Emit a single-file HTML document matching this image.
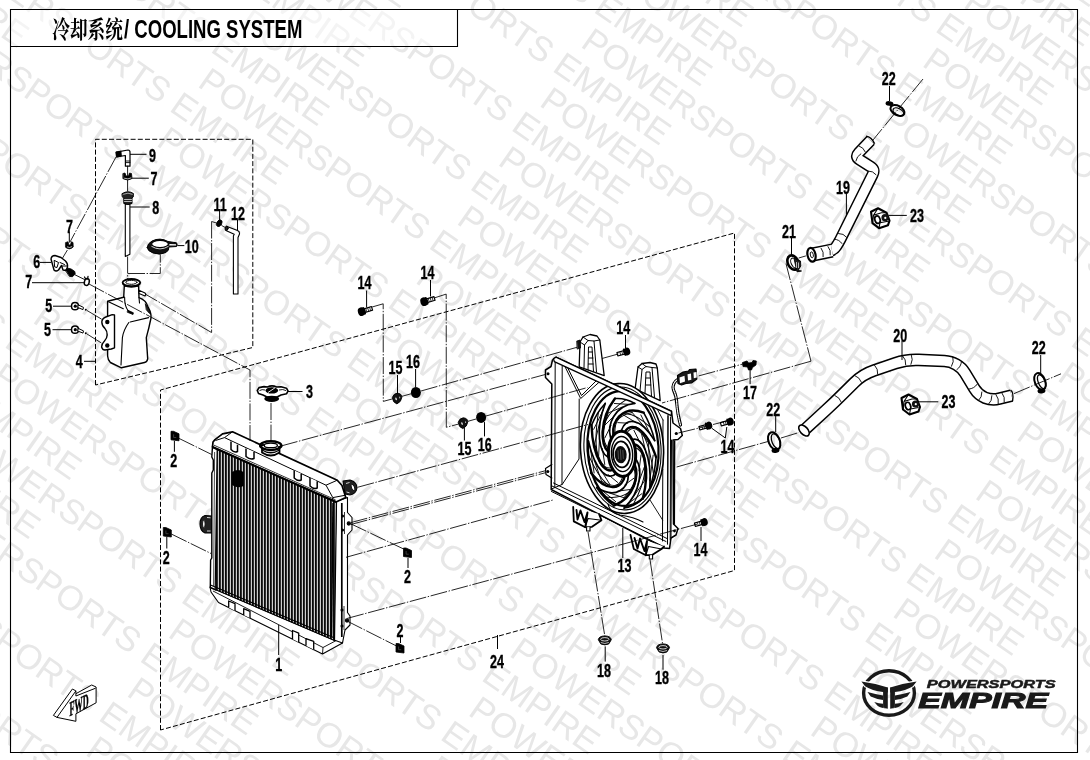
<!DOCTYPE html>
<html><head><meta charset="utf-8"><title>Cooling System</title>
<style>html,body{margin:0;padding:0;background:#fff}svg{display:block;will-change:transform}</style></head><body>
<svg width="1090" height="760" viewBox="0 0 1090 760">
<rect width="1090" height="760" fill="#fff"/>
<g transform="translate(554.19,72.34) rotate(34.97)" font-family="Liberation Sans, sans-serif" font-size="34.6" fill="#e7e7e7">
<text x="296.6" y="-576.0">POWERSPORTS EMPIRE</text>
<text x="296.6" y="-504.0">POWERSPORTS EMPIRE</text>
<text x="296.6" y="-432.0">POWERSPORTS EMPIRE</text>
<text x="5.6" y="-396.0">POWERSPORTS EMPIRE</text>
<text x="296.6" y="-360.0">POWERSPORTS EMPIRE</text>
<text x="5.6" y="-324.0">POWERSPORTS EMPIRE</text>
<text x="296.6" y="-288.0">POWERSPORTS EMPIRE</text>
<text x="5.6" y="-252.0">POWERSPORTS EMPIRE</text>
<text x="-285.4" y="-216.0">POWERSPORTS EMPIRE</text>
<text x="296.6" y="-216.0">POWERSPORTS EMPIRE</text>
<text x="5.6" y="-180.0">POWERSPORTS EMPIRE</text>
<text x="-285.4" y="-144.0">POWERSPORTS EMPIRE</text>
<text x="296.6" y="-144.0">POWERSPORTS EMPIRE</text>
<text x="5.6" y="-108.0">POWERSPORTS EMPIRE</text>
<text x="587.6" y="-108.0">POWERSPORTS EMPIRE</text>
<text x="-285.4" y="-72.0">POWERSPORTS EMPIRE</text>
<text x="296.6" y="-72.0">POWERSPORTS EMPIRE</text>
<text x="5.6" y="-36.0">POWERSPORTS EMPIRE</text>
<text x="587.6" y="-36.0">POWERSPORTS EMPIRE</text>
<text x="-285.4" y="0.0">POWERSPORTS EMPIRE</text>
<text x="296.6" y="0.0">POWERSPORTS EMPIRE</text>
<text x="-576.4" y="36.0">POWERSPORTS EMPIRE</text>
<text x="5.6" y="36.0">POWERSPORTS EMPIRE</text>
<text x="587.6" y="36.0">POWERSPORTS EMPIRE</text>
<text x="-285.4" y="72.0">POWERSPORTS EMPIRE</text>
<text x="296.6" y="72.0">POWERSPORTS EMPIRE</text>
<text x="-576.4" y="108.0">POWERSPORTS EMPIRE</text>
<text x="5.6" y="108.0">POWERSPORTS EMPIRE</text>
<text x="587.6" y="108.0">POWERSPORTS EMPIRE</text>
<text x="-285.4" y="144.0">POWERSPORTS EMPIRE</text>
<text x="296.6" y="144.0">POWERSPORTS EMPIRE</text>
<text x="-576.4" y="180.0">POWERSPORTS EMPIRE</text>
<text x="5.6" y="180.0">POWERSPORTS EMPIRE</text>
<text x="587.6" y="180.0">POWERSPORTS EMPIRE</text>
<text x="-867.3" y="216.0">POWERSPORTS EMPIRE</text>
<text x="-285.4" y="216.0">POWERSPORTS EMPIRE</text>
<text x="296.6" y="216.0">POWERSPORTS EMPIRE</text>
<text x="-576.4" y="252.0">POWERSPORTS EMPIRE</text>
<text x="5.6" y="252.0">POWERSPORTS EMPIRE</text>
<text x="587.6" y="252.0">POWERSPORTS EMPIRE</text>
<text x="-867.3" y="288.0">POWERSPORTS EMPIRE</text>
<text x="-285.4" y="288.0">POWERSPORTS EMPIRE</text>
<text x="296.6" y="288.0">POWERSPORTS EMPIRE</text>
<text x="-576.4" y="324.0">POWERSPORTS EMPIRE</text>
<text x="5.6" y="324.0">POWERSPORTS EMPIRE</text>
<text x="587.6" y="324.0">POWERSPORTS EMPIRE</text>
<text x="-867.3" y="360.0">POWERSPORTS EMPIRE</text>
<text x="-285.4" y="360.0">POWERSPORTS EMPIRE</text>
<text x="296.6" y="360.0">POWERSPORTS EMPIRE</text>
<text x="-576.4" y="396.0">POWERSPORTS EMPIRE</text>
<text x="5.6" y="396.0">POWERSPORTS EMPIRE</text>
<text x="587.6" y="396.0">POWERSPORTS EMPIRE</text>
<text x="-285.4" y="432.0">POWERSPORTS EMPIRE</text>
<text x="296.6" y="432.0">POWERSPORTS EMPIRE</text>
<text x="-576.4" y="468.0">POWERSPORTS EMPIRE</text>
<text x="5.6" y="468.0">POWERSPORTS EMPIRE</text>
<text x="587.6" y="468.0">POWERSPORTS EMPIRE</text>
<text x="-285.4" y="504.0">POWERSPORTS EMPIRE</text>
<text x="296.6" y="504.0">POWERSPORTS EMPIRE</text>
<text x="-576.4" y="540.0">POWERSPORTS EMPIRE</text>
<text x="5.6" y="540.0">POWERSPORTS EMPIRE</text>
<text x="-285.4" y="576.0">POWERSPORTS EMPIRE</text>
<text x="296.6" y="576.0">POWERSPORTS EMPIRE</text>
<text x="-576.4" y="612.0">POWERSPORTS EMPIRE</text>
<text x="5.6" y="612.0">POWERSPORTS EMPIRE</text>
<text x="-285.4" y="648.0">POWERSPORTS EMPIRE</text>
<text x="296.6" y="648.0">POWERSPORTS EMPIRE</text>
<text x="-576.4" y="684.0">POWERSPORTS EMPIRE</text>
<text x="5.6" y="684.0">POWERSPORTS EMPIRE</text>
<text x="-285.4" y="720.0">POWERSPORTS EMPIRE</text>
<text x="-576.4" y="756.0">POWERSPORTS EMPIRE</text>
<text x="5.6" y="756.0">POWERSPORTS EMPIRE</text>
<text x="-285.4" y="792.0">POWERSPORTS EMPIRE</text>
<text x="5.6" y="828.0">POWERSPORTS EMPIRE</text>
<text x="-285.4" y="864.0">POWERSPORTS EMPIRE</text>
<text x="-285.4" y="936.0">POWERSPORTS EMPIRE</text>
<text x="-285.4" y="1008.0">POWERSPORTS EMPIRE</text>
<text x="-285.4" y="1080.0">POWERSPORTS EMPIRE</text>
</g>
<rect x="10.5" y="9.5" width="447" height="37" fill="#fff" opacity="0.55"/>
<g fill="none" stroke="#000" stroke-width="1.1">
<path d="M10.5 9.5H1077.5V752.5H10.5Z"/><path d="M10.5 46.5H457.5V9.5"/>
</g>
<text transform="translate(52.3,38.2) scale(.735,1)" font-family="Liberation Serif, Noto Serif CJK SC, serif" font-weight="700" font-size="24">冷却系统</text>
<text transform="translate(124,38.4) scale(.737,1)" font-family="Liberation Sans, sans-serif" font-weight="bold" font-size="25.2">/ COOLING SYSTEM</text>
<g fill="none" stroke="#000" stroke-linecap="butt" stroke-linejoin="round">
<path d="M142.5 292.5L211.5 332.5" stroke-dasharray="17 1.6 1.4 1.6" stroke-width="0.85"/>
</g>
<defs><pattern id="fins" width="3" height="8" patternUnits="userSpaceOnUse"><rect width="3" height="8" fill="#0a0a0a"/><rect x="1.6" width="0.55" height="8" fill="#6a6a6a"/><rect x="2.15" width="0.85" height="8" fill="#eeeeee"/></pattern></defs>
<g stroke="#000" stroke-width="1.1" stroke-linejoin="round" fill="#fff">
<path d="M210 587L211 592L218.5 602.5L322.5 654L342.5 643L342.5 636L334 640Z"/>
<path d="M213 591L323 647.5L341 638M323 647.5L322.5 654" fill="none" stroke-width="0.9"/>
<path d="M228.7 607.5V601.0L235.0 603.6V610.7" fill="#fff" stroke-width="1.3"/>
<path d="M243.7 615.0V608.7L250.0 611.3V618.1" fill="#fff" stroke-width="1.3"/>
<path d="M292.5 639.1V630.5L298.7 633.1V642.2" fill="#fff" stroke-width="1.3"/>
<path d="M306.0 645.8V638.7L313.7 641.3V649.6" fill="#fff" stroke-width="1.3"/>
<path d="M336 501.5L347.5 497.5L347.5 512.5L352 517.5L352 530L347.5 535L347.5 612.5L350 616L350 625L345 630L342.5 643L334 640Z"/>
<path d="M341.8 503V637" fill="none" stroke-width="1.7"/>
<path d="M344.5 512V534M344 606V630" fill="none" stroke-width="0.8"/>
<circle cx="348.8" cy="523.5" r="1.6" fill="#000"/><circle cx="347" cy="620.5" r="1.6" fill="#000"/>
<circle cx="342.5" cy="516" r="1" fill="#000"/><circle cx="342.5" cy="530" r="1" fill="#000"/><circle cx="342" cy="610" r="1" fill="#000"/><circle cx="342" cy="626" r="1" fill="#000"/>
<path d="M212 516L205 515.5Q200 517 200 524Q200 531 205 533L212 533Z" fill="#222"/>
<ellipse cx="203.8" cy="524" rx="1.3" ry="3.4" fill="#fff" stroke-width="0.8"/>
<path d="M207 517.5L210.5 517.8M207 531L210.5 531" fill="none" stroke="#fff" stroke-width="0.8"/>
<path d="M212.5 446L218 448.5L216 590L210.3 587.5L210.6 560L211.8 558L211.8 473L213.3 470L213.3 460L211.8 457Z" fill="#fff" stroke-width="1.4"/>
<path d="M217.2 448L336.5 501.5L334.5 640.5L215.2 589.5Z" fill="url(#fins)" stroke-width="1.2"/>
<path d="M214.6 452L213.6 586" fill="none" stroke="#000" stroke-width="0.7"/>
<path d="M333 503L331.5 637" fill="none" stroke="#000" stroke-width="1.5"/>
<path d="M210.5 585L334.5 638" fill="none" stroke="#000" stroke-width="1.2"/>
<path d="M232 472Q238 468 243.5 472L243.5 486Q238 489 232 485Z" fill="#000" stroke="none"/>
<path d="M343 481L350 480Q357 482 357 488Q356 494 350 495L345 494Z" fill="#222"/>
<ellipse cx="353" cy="487.5" rx="1.5" ry="3.2" fill="#fff" stroke-width="0.8" transform="rotate(-20 353 487.5)"/>
<path d="M346 483.5L349.5 482.5M346.5 492L349.5 492.8" fill="none" stroke="#fff" stroke-width="0.8"/>
<path d="M212.5 447L213 442L215 439.6L222.5 433.8L232.5 431.8L337.3 480.2L342 485.5L345.8 497.5L336 502Z" stroke-width="1.7"/>
<path d="M215.5 440.5L224.5 437.6L326 485.2L332.8 497.6M224.5 437.6L232.5 431.8M326 485.2L337.3 480.2M332.8 497.6L345.6 495.2M332.8 497.6L332.6 501" fill="none" stroke-width="1"/>
<path d="M214 445.2L335.5 499.8" fill="none" stroke-width="0.8"/>
<path d="M212.5 447L336 502" fill="none" stroke-width="2"/>
<path d="M231.0 441.5V449.5Q234.2 453.0 237.5 451.5V444.7" fill="#fff" stroke-width="1.5"/>
<path d="M246.0 448.5V456.5Q250.0 460.0 254.0 458.5V451.7" fill="#fff" stroke-width="1.5"/>
<path d="M294.2 470.5V478.0Q297.7 481.5 301.2 480.0V473.7" fill="#fff" stroke-width="1.5"/>
<path d="M310.0 478.0V486.0Q313.6 489.5 317.2 488.0V481.2" fill="#fff" stroke-width="1.5"/>
<path d="M262 447.5V452.5Q270.8 458.5 279.5 452.5V447.5" fill="#fff" stroke-width="1.8"/>
<path d="M262 450Q270.8 455.5 279.5 450" fill="none" stroke-width="1.3"/>
<ellipse cx="270.8" cy="445.6" rx="10.6" ry="4.4" fill="#fff" stroke-width="2.4"/>
<ellipse cx="270.8" cy="445.4" rx="6.6" ry="2.3" fill="#fff" stroke-width="1.3"/>
<path d="M259.5 446.5L264 444.5M282 446L278 447.5" fill="none" stroke-width="2"/>
<path d="M257.3 390.5L259 387.6L264 386.6L267.5 387Q272 384.8 276.5 387L281 386.8L286.5 388.2L288 391L286.5 393.8L281 395L277.5 396.8Q272 398.2 266.5 396.8L263 395L258.5 393.5Z" stroke-width="1.6"/>
<ellipse cx="271.8" cy="390.4" rx="6.3" ry="3.2" fill="#000" stroke="none"/>
<path d="M268 392.5L275 387.8" fill="none" stroke="#fff" stroke-width="0.9"/>
<path d="M259.5 390.6Q262 389 265 390M279 390Q283 388.8 286 390.6" fill="none" stroke-width="0.9"/>
<ellipse cx="271.7" cy="398.8" rx="7.4" ry="3.1" fill="#000" stroke="none"/>
</g>
<g stroke="#000" stroke-width="1.4" stroke-linejoin="round" stroke-linecap="round" fill="#fff">
<path d="M107.6 301.3L123.7 297.3L124.3 286L138.6 286L139 297.6Q146 300 148 306.8Q151.5 313 151 318Q149 328 146.3 337.6L147.7 358.8Q147 362 144.5 362.5L121.4 367.8L110.4 362.5Q107.8 360 107.6 356Z"/>
<path d="M108.5 301.8L123.3 308.7M124.6 297Q124.5 306 128 310.5M128.8 322.5Q123.5 330 122.4 337.6L121 365M130.2 322L148.6 317.6M139 297.6L139.5 303" fill="none" stroke-width="1.1"/>
<path d="M128 310.3L133.4 312.8L133 314.5L127.5 312.3Z" fill="#000" stroke-width="0.8"/>
<path d="M145.5 304L150 311L149.5 313.5L146.5 310Z" fill="#222" stroke-width="0.8"/>
<path d="M139 290.3L145 293Q146.5 294.5 145 296L139 293.5Z" stroke-width="1.1"/>
<ellipse cx="131.4" cy="282.6" rx="8.8" ry="3.6" stroke-width="1.8"/>
<ellipse cx="131.4" cy="282.3" rx="5.6" ry="2" stroke-width="1"/>
<path d="M122.8 283.5Q123 286.5 131.4 287.2Q139.8 286.5 140 283.5" fill="none" stroke-width="1.2"/>
<path d="M114.5 315L112.2 314.6L105.8 317Q102 318.5 101.8 322Q102 326 104.9 328.4Q107.5 331.5 107.2 335Q107 338.5 104.5 341Q101.5 344 101.6 347Q102.5 350 104.9 350L111.3 349L114.5 347.8Z" stroke-width="1.4"/>
<circle cx="107.3" cy="322" r="2.2" fill="#000" stroke="none"/><circle cx="107.3" cy="345.5" r="2.2" fill="#000" stroke="none"/>
<path d="M71.5 306.2Q71.5 302.6 75 302.6Q78.5 302.6 78.5 306.2Q78.5 309.8 75 309.8Q71.5 309.8 71.5 306.2Z" fill="#fff" stroke-width="1.5"/>
<circle cx="75.3" cy="306.2" r="1.6" fill="#000" stroke="none"/>
<path d="M78.5 305.0L83.5 307.4L83 309.6L78 307.6Z" fill="#fff" stroke-width="1"/>
<circle cx="85.8" cy="309.8" r="1" fill="#000" stroke="none"/>
<path d="M71.5 329.7Q71.5 326.1 75 326.1Q78.5 326.1 78.5 329.7Q78.5 333.3 75 333.3Q71.5 333.3 71.5 329.7Z" fill="#fff" stroke-width="1.5"/>
<circle cx="75.3" cy="329.7" r="1.6" fill="#000" stroke="none"/>
<path d="M78.5 328.5L83.5 330.9L83 333.1L78 331.1Z" fill="#fff" stroke-width="1"/>
<circle cx="85.8" cy="333.3" r="1" fill="#000" stroke="none"/>
<path d="M116.3 152.2L128 150Q130.2 150.2 130 152.5L130 166.2L125.4 166.2L125.4 155.5L116.8 156.8Z" stroke-width="1.2"/>
<path d="M116.2 152L121 151.2L121.4 156L116.8 157Z" fill="#000" stroke-width="0.8"/>
<path d="M125.4 161H130M125.4 162.6H130" fill="none" stroke-width="0.9"/>
<path d="M127.6 166.2V191" fill="none" stroke-width="0.9"/>
<path d="M123.2 173.5L125 173L126 176L128.5 176L129.5 173L131.5 173.5L132 178.5Q128 181.5 123.2 178.8Z" fill="#000" stroke-width="0.8"/>
<path d="M124.5 178.3Q128 179.8 131 178" fill="none" stroke="#fff" stroke-width="0.7"/>
<path d="M125.3 204H129.9V254.3L125.3 256.5Z" stroke-width="1.1"/>
<path d="M122.3 193.5Q128 190 133.4 193.5L133.2 197L132 198L132 203.5Q128 205.5 123.8 203.5L123.8 198L122.5 197Z" fill="#222" stroke-width="1"/>
<path d="M124.5 199.5H131.5M124.5 201.5H131.5" fill="none" stroke="#fff" stroke-width="0.7"/>
<path d="M123.5 194.2Q128 192 132.3 194.2" fill="none" stroke="#fff" stroke-width="0.6"/>
<path d="M147.2 247.5Q147.5 243.5 152 241Q160 237 168 241.5L176.5 242.8Q177.8 244.5 176.5 246.5L168.8 247Q169.5 250 166 252.5Q160 255.5 153 253Q147.5 251 147.2 247.5Z" fill="#111" stroke-width="1"/>
<ellipse cx="160" cy="244" rx="8.4" ry="3.6" fill="#fff" stroke-width="1.2"/>
<path d="M169.5 244L176 244.3L176 245.6L169.2 245.6Z" fill="#fff" stroke="none"/>
<path d="M151.8 246.5Q160 251.5 168.2 246.5" fill="none" stroke="#fff" stroke-width="0.8"/>
<path d="M65.8 242.5L68 241.8L68.8 245L70.5 245L71.3 241.8L73 242.5L73.2 247Q69.5 250.5 65.8 247.5Z" fill="#000" stroke-width="0.8"/>
<path d="M67.3 247Q69.5 248.3 71.8 246.8" fill="none" stroke="#fff" stroke-width="0.7"/>
<path d="M51 259Q51.5 255.5 55 255.5L61 257.5L65.5 261Q68 263.5 67.5 267L66 270.5L63 270L61.5 265.5L58.5 270Q56 272 54 270Z" stroke-width="1.4"/>
<path d="M54.5 260.5L58.5 262.5L57 267.5L55 267Z" stroke-width="1"/>
<path d="M60 262.5L64.5 264.5M61.5 266H66.5" fill="none" stroke-width="1"/>
<path d="M65.5 270L68 268.2Q71 268.3 74.8 271.5L75.2 274L72.5 276.7L69.8 276.4Z" fill="#000" stroke-width="0.9"/>
<path d="M75.2 274.9L84.5 279.5" fill="none" stroke-width="0.9"/>
<ellipse cx="86.8" cy="282" rx="2.4" ry="3.5" stroke-width="1.5" transform="rotate(15 86.8 282)"/>
<path d="M84.5 277L86 279.5M88 276.5L87.6 279" fill="none" stroke-width="1.3"/>
<ellipse cx="219.2" cy="223.2" rx="2.4" ry="3.6" fill="#000" stroke-width="0.8" transform="rotate(30 219.2 223.2)"/>
<path d="M226.4 226.2L237.5 230.5Q239.8 231.5 239.5 234L238 237.5L238 294L233.4 294L233.4 236L234.2 234.3L225.9 230.6Z" stroke-width="1.1"/>
<ellipse cx="226.6" cy="228.3" rx="1.5" ry="2.3" fill="#222" stroke-width="0.9" transform="rotate(15 226.6 228.3)"/>
</g>
<g stroke="#000" stroke-width="1.1" stroke-linejoin="round" stroke-linecap="round" fill="#fff">
<path d="M579.2 366.8L580 342L583 337L590 334.5L597 336L599.8 340L604.2 375.7Z" stroke-width="1.3"/>
<path d="M584 368L584.5 345L588 340.5L594 341L596.5 372M588 370L588.5 347L592 347L593.5 371.5M580 342L584.5 345M588.5 352H592.5M588.5 358H593M588.5 364H593.2M583 337L588 340.5M599.8 340L594 341" fill="none" stroke-width="1"/>
<path d="M577 341L580 340L580.5 348L577.5 349Z" fill="#111" stroke-width="0.8"/>
<path d="M635.1 388.9L638 367L642 363.5L650 362.5L656 364L657.3 368L660.2 400.7Z" stroke-width="1.3"/>
<path d="M640 391L642 369.5L646 366.5L652 367.5L654.5 397.5M645 393L646 372L650 372L651.5 396M638 367L642 369.5M642 363.5L646 366.5M657.3 368L652 367.5M646 378H650.3M646 385H650.8" fill="none" stroke-width="1"/>
<path d="M680.5 425Q677.5 414 676.8 404Q676.5 396 673.5 390Q671.5 383 679 378.5" fill="none" stroke-width="3.2"/>
<path d="M680.5 425Q677.5 414 676.8 404Q676.5 396 673.5 390Q671.5 383 679 378.5" fill="none" stroke="#fff" stroke-width="1.2" stroke-dasharray="1.3 1"/>
<path d="M677.5 375.5L683 372L688.5 371L689.5 369.5L696 369L696.8 379L691.5 383L686 383.5L681.5 385L678 383.5Z" fill="#1a1a1a" stroke-width="1.2"/>
<path d="M679.5 377.5L684.5 375.8L685 381.5L680 383.2Z" fill="#fff" stroke="none"/>
<path d="M687.5 374.2L691 373.6L691.4 379.8L688 380.6Z" fill="#fff" stroke="none"/>
<path d="M693.5 372.5L696.5 372L696.8 377.5L693.8 378.2Z" fill="#fff" stroke="none"/>
<path d="M551.2 489.5L551.8 384L545.5 377.5L545.5 370L551 366.5L552.5 360L556 357.2L671.5 411.3L673 423L680.5 428.5L682.3 435.5L678 439.5L673 440L673.5 524L678 528.5L676 535L671 538L669.5 548.5L664 548Z" stroke="none"/>
<path d="M555.2 361L554.8 487M562.2 366L562 484.5M551.5 489L562 484.5" fill="none" stroke-width="1"/>
<path d="M579.2 399L579 459L562.5 484" fill="none" stroke-width="1"/>
<path d="M563.7 364L580.7 398.5L599 382.3M566.5 365.5L581.5 395.5L596 381" fill="none" stroke-width="1"/>
<path d="M668 415L667.5 544M663 420L662.5 541M671.5 440L671 538" fill="none" stroke-width="1"/>
<path d="M663 420L655 405M662.8 470L657 478M662.6 520L650 500" fill="none" stroke-width="0.9"/>
<path d="M552 486L666 541.5M553.5 483L667 538.5M551.5 491.5L664.5 547" fill="none" stroke-width="1"/>
<circle cx="548" cy="373.8" r="1.5" fill="#000" stroke="none"/><circle cx="547.6" cy="471.5" r="1.5" fill="#000" stroke="none"/><circle cx="676.3" cy="433.5" r="1.6" fill="#000" stroke="none"/><circle cx="674.5" cy="531" r="1.4" fill="#000" stroke="none"/>
<path d="M551.8 478L546 474.5L545.5 468.5L551.8 464.5" fill="#fff" stroke-width="1.2"/>
<circle cx="547.8" cy="471.5" r="1.5" fill="#000" stroke="none"/>
<g transform="rotate(-3.5 622.0 448.5)">
<ellipse cx="622.0" cy="448.5" rx="41.5" ry="65.0" fill="#fff" stroke-width="1.6"/>
<ellipse cx="622.5" cy="448.5" rx="38.5" ry="61.5" fill="none" stroke-width="1.1"/>
<ellipse cx="623.0" cy="448.5" rx="35.5" ry="57.5" fill="none" stroke-width="2.2"/>
<path d="M634.7 445.3C642.8 447.0 649.9 468.8 639.7 499.8" fill="none" stroke-width="2.4"/>
<path d="M635.5 460.3C641.2 469.8 638.8 492.7 620.5 508.1" fill="none" stroke-width="1.7"/>
<path d="M640.7 451.9C648.0 459.0 644.8 481.3 629.7 505.2" fill="none" stroke-width="1.0"/>
<path d="M635.2 448.3C643.1 451.8 644.5 462.2 642.8 481.8" fill="none" stroke-width="1.0"/>
<path d="M639.7 499.8Q630.6 507.1 620.5 508.1" fill="none" stroke-width="1.6"/>
<path d="M640.6 456.2L637.6 471.8" fill="none" stroke-width="0.9"/>
<path d="M643.1 468.5L635.9 484.7" fill="none" stroke-width="0.9"/>
<path d="M642.8 481.8L631.4 496.2" fill="none" stroke-width="0.9"/>
<path d="M639.1 494.8L623.9 504.4" fill="none" stroke-width="0.9"/>
<path d="M633.5 464.7C637.7 476.0 631.7 498.6 610.4 505.0" fill="none" stroke-width="2.4"/>
<path d="M626.8 475.0C625.8 488.2 613.3 499.5 594.4 485.9" fill="none" stroke-width="1.7"/>
<path d="M634.0 476.4C635.2 490.1 622.5 500.0 601.6 495.7" fill="none" stroke-width="1.0"/>
<path d="M632.4 467.2C635.6 479.4 631.5 487.6 621.0 497.8" fill="none" stroke-width="1.0"/>
<path d="M610.4 505.0Q601.2 498.1 594.4 485.9" fill="none" stroke-width="1.6"/>
<path d="M631.9 479.0L622.6 484.9" fill="none" stroke-width="0.9"/>
<path d="M627.6 489.9L615.3 490.8" fill="none" stroke-width="0.9"/>
<path d="M621.0 497.8L606.9 492.2" fill="none" stroke-width="0.9"/>
<path d="M612.4 501.1L598.3 487.9" fill="none" stroke-width="0.9"/>
<path d="M623.4 475.2C620.6 487.7 605.9 494.1 589.6 471.1" fill="none" stroke-width="2.4"/>
<path d="M614.3 473.2C607.3 480.1 594.1 471.3 588.9 438.9" fill="none" stroke-width="1.7"/>
<path d="M618.1 483.2C612.2 493.3 599.5 483.3 588.6 454.1" fill="none" stroke-width="1.0"/>
<path d="M621.5 475.4C617.7 487.1 611.1 487.0 599.7 480.1" fill="none" stroke-width="1.0"/>
<path d="M589.6 471.1Q587.2 455.1 588.9 438.9" fill="none" stroke-width="1.6"/>
<path d="M615.6 482.1L606.9 474.0" fill="none" stroke-width="0.9"/>
<path d="M607.6 483.5L599.5 468.4" fill="none" stroke-width="0.9"/>
<path d="M599.7 480.1L593.6 458.7" fill="none" stroke-width="0.9"/>
<path d="M592.7 471.2L590.3 445.1" fill="none" stroke-width="0.9"/>
<path d="M612.1 469.0C604.3 473.3 592.1 458.7 593.0 423.5" fill="none" stroke-width="2.4"/>
<path d="M607.3 456.2C599.6 451.6 595.7 429.3 608.0 402.5" fill="none" stroke-width="1.7"/>
<path d="M604.9 467.3C596.4 466.1 593.3 443.8 600.5 411.6" fill="none" stroke-width="1.0"/>
<path d="M610.8 466.7C602.8 469.1 598.7 460.7 595.0 441.9" fill="none" stroke-width="1.0"/>
<path d="M593.0 423.5Q599.2 410.6 608.0 402.5" fill="none" stroke-width="1.6"/>
<path d="M603.8 463.4L602.4 447.3" fill="none" stroke-width="0.9"/>
<path d="M598.3 454.1L600.4 434.4" fill="none" stroke-width="0.9"/>
<path d="M595.0 441.9L601.4 420.9" fill="none" stroke-width="0.9"/>
<path d="M594.9 427.6L606.0 408.3" fill="none" stroke-width="0.9"/>
<path d="M608.0 450.8C601.1 443.6 600.5 418.9 618.0 398.2" fill="none" stroke-width="2.4"/>
<path d="M611.2 436.7C608.6 424.1 616.9 405.2 637.5 404.2" fill="none" stroke-width="1.7"/>
<path d="M604.3 440.6C599.6 429.1 608.4 411.2 628.4 400.4" fill="none" stroke-width="1.0"/>
<path d="M608.3 447.7C602.1 439.0 603.7 428.7 610.3 412.2" fill="none" stroke-width="1.0"/>
<path d="M618.0 398.2Q628.1 398.0 637.5 404.2" fill="none" stroke-width="1.6"/>
<path d="M605.6 436.8L612.4 424.9" fill="none" stroke-width="0.9"/>
<path d="M606.5 424.0L617.4 414.4" fill="none" stroke-width="0.9"/>
<path d="M610.3 412.2L624.5 407.3" fill="none" stroke-width="0.9"/>
<path d="M617.2 403.1L633.4 405.1" fill="none" stroke-width="0.9"/>
<path d="M614.2 434.2C613.4 421.0 624.9 404.8 645.8 414.1" fill="none" stroke-width="2.4"/>
<path d="M623.0 429.6C627.5 418.4 641.7 417.1 655.1 442.6" fill="none" stroke-width="1.7"/>
<path d="M616.8 423.2C619.5 410.0 633.6 410.1 651.2 428.7" fill="none" stroke-width="1.0"/>
<path d="M615.9 432.7C616.2 419.4 622.2 414.9 634.3 413.1" fill="none" stroke-width="1.0"/>
<path d="M645.8 414.1Q652.2 426.8 655.1 442.6" fill="none" stroke-width="1.6"/>
<path d="M619.4 422.4L629.4 423.6" fill="none" stroke-width="0.9"/>
<path d="M626.2 415.6L637.6 423.5" fill="none" stroke-width="0.9"/>
<path d="M634.3 413.1L645.5 428.1" fill="none" stroke-width="0.9"/>
<path d="M642.9 416.2L652.1 438.1" fill="none" stroke-width="0.9"/>
<path d="M626.1 431.8C631.9 422.5 646.9 427.0 655.5 459.3" fill="none" stroke-width="2.4"/>
<path d="M633.8 440.0C642.0 438.7 651.5 456.0 647.5 488.9" fill="none" stroke-width="1.7"/>
<path d="M633.0 428.3C641.0 423.4 649.8 441.3 651.8 475.4" fill="none" stroke-width="1.0"/>
<path d="M627.9 433.0C634.4 425.1 640.3 429.9 648.8 444.1" fill="none" stroke-width="1.0"/>
<path d="M655.5 459.3Q653.3 475.4 647.5 488.9" fill="none" stroke-width="1.6"/>
<path d="M635.0 431.1L640.7 444.5" fill="none" stroke-width="0.9"/>
<path d="M642.5 435.5L645.8 454.8" fill="none" stroke-width="0.9"/>
<path d="M648.8 444.1L648.5 467.6" fill="none" stroke-width="0.9"/>
<path d="M652.7 457.0L647.8 482.2" fill="none" stroke-width="0.9"/>
<ellipse cx="621.7" cy="453.8" rx="13.6" ry="22.6" fill="#fff" stroke-width="3"/>
<ellipse cx="621.7" cy="454.0" rx="10.6" ry="17.6" fill="#fff" stroke-width="1.4"/>
<ellipse cx="621.1" cy="454.4" rx="8.4" ry="13" fill="#fff" stroke-width="1.8"/>
<ellipse cx="620.3" cy="454.6" rx="6" ry="8.6" fill="#0d0d0d" stroke="none"/>
<path d="M617.9 450.5v8M620.3 449.5v10M622.7 450.5v8" fill="none" stroke="#777" stroke-width="0.6"/>
</g>
<path d="M551.2 489.5L551.8 384L545.5 377.5L545.5 370L551 366.5L552.5 360L556 357.2L671.5 411.3L673 423L680.5 428.5L682.3 435.5L678 439.5L673 440L673.5 524L678 528.5L676 535L671 538L669.5 548.5L664 548Z" fill="none" stroke-width="1.5"/>
<path d="M553.5 358.6L556 357.2L671.5 411.3L671.3 415.6L554.3 361.6Z" fill="#fff" stroke-width="1.3"/>
<path d="M668 416L667.5 544M670.6 417L670.2 540" fill="none" stroke-width="1"/>
<path d="M674.6 441L674.3 524" fill="none" stroke-width="1.5"/>
<path d="M573.2 507L573.8 521.4L585.3 527.2L592 526.8L601.5 520.3L599 514" fill="#fff" stroke-width="1.8"/>
<path d="M576.5 510L577.5 519.5L580.5 510.5L584.5 522L587.5 512.5L585.3 527.2" fill="none" stroke-width="1.9"/>
<path d="M585.3 527.2L588 518.5L601.5 520.3" fill="none" stroke-width="1.1"/>
<path d="M586.6 527.3V531H590V527" fill="#fff" stroke-width="1.1"/>
<path d="M630.5 535L633.8 549L645.9 555.2L652 555L661.5 549L664 546.5" fill="#fff" stroke-width="1.8"/>
<path d="M634.5 538L637.5 548.5L640 538.5L644.5 551L647 541L645.9 555.2" fill="none" stroke-width="1.9"/>
<path d="M645.9 555.2L648.5 546.5L661.5 549" fill="none" stroke-width="1.1"/>
<path d="M649.3 555.2V559H652.6V555" fill="#fff" stroke-width="1.1"/>
<path d="M608 504Q610 513 620 515Q634 517 643 522" fill="none" stroke-width="1.1"/>
</g>
<g stroke="#000" stroke-width="1.1" stroke-linejoin="round" stroke-linecap="butt" fill="#fff">
<path d="M870.5 140.5L858.6 152.8Q854.8 156.8 859.5 159.7L870.5 166.6Q875.2 169.5 872.7 174.4L840.4 239.3Q838.5 243.0 836.2 246.5L836.2 246.5Q834.0 250.0 829.9 250.9L811.5 254.8" fill="none" stroke="#000" stroke-width="12.0" stroke-linejoin="round"/>
<path d="M870.5 140.5L858.6 152.8Q854.8 156.8 859.5 159.7L870.5 166.6Q875.2 169.5 872.7 174.4L840.4 239.3Q838.5 243.0 836.2 246.5L836.2 246.5Q834.0 250.0 829.9 250.9L811.5 254.8" fill="none" stroke="#fff" stroke-width="9.0" stroke-linejoin="round"/>
<path d="M832.0 250.6L811.5 254.8" fill="none" stroke="#000" stroke-width="14.2" stroke-linejoin="round"/>
<path d="M832.0 250.6L811.5 254.8" fill="none" stroke="#fff" stroke-width="11.2" stroke-linejoin="round"/>
<path d="M858.6 145.8Q863.5 147.4 865.4 152.2" fill="none" stroke-width="0.9"/>
<path d="M855.8 161.4Q856.7 156.2 861.2 153.6" fill="none" stroke-width="0.9"/>
<path d="M867.7 171.0Q873.0 170.8 876.3 175.0" fill="none" stroke-width="0.9"/>
<path d="M838.2 233.5Q843.5 233.3 846.8 237.5" fill="none" stroke-width="0.9"/>
<path d="M833.9 239.2Q839.2 239.4 842.1 243.8" fill="none" stroke-width="0.9"/>
<path d="M827.8 246.3Q831.1 250.2 830.2 255.3" fill="none" stroke-width="0.9"/>
<path d="M820.9 247.9Q824.1 252.0 823.1 257.1" fill="none" stroke-width="0.9"/>
<path d="M866 136.2Q871.5 136.5 874.6 143.8" fill="none" stroke-width="1.5"/>
<ellipse cx="811.5" cy="254.8" rx="4" ry="7" fill="#fff" stroke-width="2.2" transform="rotate(-12 811.5 254.8)"/>
<ellipse cx="811.8" cy="254.8" rx="1.5" ry="3" fill="#fff" stroke-width="0.9" transform="rotate(-12 811.8 254.8)"/>
<path d="M804.0 430.3L826.2 409.9Q835.0 401.8 843.5 393.3L854.1 382.8Q862.6 374.3 874.0 370.5L895.2 363.2Q906.6 359.4 918.6 359.9L944.4 361.0Q950.7 361.3 956.2 364.5L956.2 364.5Q961.7 367.6 965.0 373.0L974.4 388.6Q978.2 395.0 985.1 397.8L985.1 397.8Q992.0 400.5 999.2 398.7L1011.5 395.6" fill="none" stroke="#000" stroke-width="12.6" stroke-linejoin="round"/>
<path d="M804.0 430.3L826.2 409.9Q835.0 401.8 843.5 393.3L854.1 382.8Q862.6 374.3 874.0 370.5L895.2 363.2Q906.6 359.4 918.6 359.9L944.4 361.0Q950.7 361.3 956.2 364.5L956.2 364.5Q961.7 367.6 965.0 373.0L974.4 388.6Q978.2 395.0 985.1 397.8L985.1 397.8Q992.0 400.5 999.2 398.7L1011.5 395.6" fill="none" stroke="#fff" stroke-width="9.6" stroke-linejoin="round"/>
<path d="M841.5 402.7Q839.8 397.4 834.5 395.3" fill="none" stroke-width="0.9"/>
<path d="M861.6 382.6Q859.7 377.3 854.4 375.4" fill="none" stroke-width="0.9"/>
<path d="M877.7 374.5Q878.3 368.9 874.3 364.9" fill="none" stroke-width="0.9"/>
<path d="M905.7 365.1Q906.3 359.5 902.3 355.5" fill="none" stroke-width="0.9"/>
<path d="M910.8 364.7Q913.4 359.7 911.2 354.5" fill="none" stroke-width="0.9"/>
<path d="M951.3 366.6Q954.4 361.8 952.7 356.4" fill="none" stroke-width="0.9"/>
<path d="M956.5 369.9Q961.1 366.7 961.5 361.1" fill="none" stroke-width="0.9"/>
<path d="M968.6 389.1Q974.2 388.6 977.4 383.9" fill="none" stroke-width="0.9"/>
<path d="M978.1 401.0Q982.2 397.2 981.9 391.6" fill="none" stroke-width="0.9"/>
<path d="M988.1 404.7Q992.2 400.9 991.9 395.3" fill="none" stroke-width="0.9"/>
<path d="M998.2 404.2Q999.3 398.7 995.8 394.4" fill="none" stroke-width="0.9"/>
<path d="M1004.2 402.6Q1005.3 397.1 1001.8 392.8" fill="none" stroke-width="0.9"/>
<ellipse cx="804" cy="430.5" rx="3.8" ry="6.6" fill="#fff" stroke-width="1.6" transform="rotate(-43 804 430.5)"/>
<path d="M1010.5 390.2Q1014 392 1012.6 401.2" fill="none" stroke-width="1.3"/>
<ellipse cx="897.5" cy="110.5" rx="7.6" ry="4.6" fill="none" stroke-width="2" transform="rotate(28.0 897.5 110.5)"/>
<ellipse cx="898.9" cy="111.3" rx="5.8" ry="3.2" fill="none" stroke-width="1.3" transform="rotate(28.0 897.5 110.5)"/>
<ellipse cx="889.5" cy="103.5" rx="4" ry="2.4" fill="#000" stroke="none" transform="rotate(8.4 889.5 103.5)"/>
<ellipse cx="774.2" cy="441.0" rx="5.6" ry="9.2" fill="none" stroke-width="2" transform="rotate(-22.0 774.2 441.0)"/>
<ellipse cx="775.6" cy="441.8" rx="3.8" ry="7.8" fill="none" stroke-width="1.3" transform="rotate(-22.0 774.2 441.0)"/>
<ellipse cx="775.5" cy="450.5" rx="4" ry="2.4" fill="#000" stroke="none" transform="rotate(-6.6 775.5 450.5)"/>
<ellipse cx="1040.0" cy="381.5" rx="5.2" ry="8.8" fill="none" stroke-width="2" transform="rotate(-22.0 1040.0 381.5)"/>
<ellipse cx="1041.4" cy="382.3" rx="3.4" ry="7.4" fill="none" stroke-width="1.3" transform="rotate(-22.0 1040.0 381.5)"/>
<ellipse cx="1041.5" cy="391.0" rx="4" ry="2.4" fill="#000" stroke="none" transform="rotate(-6.6 1041.5 391.0)"/>
<ellipse cx="793" cy="262.5" rx="5.2" ry="7.4" fill="#fff" stroke-width="2.6" transform="rotate(-25 793 262.5)"/>
<ellipse cx="794.2" cy="263" rx="3" ry="5.2" fill="#fff" stroke-width="1" transform="rotate(-25 794.2 263)"/>
<path d="M794 258.5L800.5 261L800.8 266L798 270.5L801.5 271L797 271.8Z" fill="#222" stroke-width="0.9"/>
<path d="M796.5 262V268M798.5 262.5V268" fill="none" stroke="#fff" stroke-width="0.7"/>
<g transform="translate(880.0 218.2)">
<path d="M-9 -6.5L-2 -10L6.5 -5.5L9.5 2.5L8 7L-1 10L-7.5 5Z" fill="#fff" stroke-width="2.1"/>
<path d="M-7.5 5L-6.5 -3L-2 -10M-6.5 -3L1.5 -5.5L6.5 -5.5M-1 10L0 4.5L8 3" fill="none" stroke-width="1.1"/>
<ellipse cx="-2.5" cy="1.5" rx="2.6" ry="3.8" fill="#fff" stroke-width="1.7" transform="rotate(-20 -2.5 1.5)"/>
<circle cx="5" cy="-0.5" r="3.6" fill="#111" stroke="none"/><circle cx="5.3" cy="-0.3" r="1.1" fill="#fff" stroke="none"/>
</g>
<g transform="translate(910.5 404.5)">
<path d="M-9 -6.5L-2 -10L6.5 -5.5L9.5 2.5L8 7L-1 10L-7.5 5Z" fill="#fff" stroke-width="2.1"/>
<path d="M-7.5 5L-6.5 -3L-2 -10M-6.5 -3L1.5 -5.5L6.5 -5.5M-1 10L0 4.5L8 3" fill="none" stroke-width="1.1"/>
<ellipse cx="-2.5" cy="1.5" rx="2.6" ry="3.8" fill="#fff" stroke-width="1.7" transform="rotate(-20 -2.5 1.5)"/>
<circle cx="5" cy="-0.5" r="3.6" fill="#111" stroke="none"/><circle cx="5.3" cy="-0.3" r="1.1" fill="#fff" stroke="none"/>
</g>
<g transform="translate(361.5 311.6) rotate(-17.0)">
<path d="M2.5 -1.9H11.0V1.9H2.5Z" fill="#fff" stroke-width="1.2"/>
<path d="M5 -1.9V1.9M7 -1.9V1.9M9 -1.9V1.9" stroke-width="0.7" fill="none"/>
<ellipse cx="0" cy="0" rx="3.6" ry="4.4" fill="#000" stroke="none"/>
<ellipse cx="2.8" cy="0" rx="1.4" ry="4" fill="#000" stroke="none"/>
</g>
<g transform="translate(424.0 301.7) rotate(-17.0)">
<path d="M2.5 -1.9H11.0V1.9H2.5Z" fill="#fff" stroke-width="1.2"/>
<path d="M5 -1.9V1.9M7 -1.9V1.9M9 -1.9V1.9" stroke-width="0.7" fill="none"/>
<ellipse cx="0" cy="0" rx="3.6" ry="4.4" fill="#000" stroke="none"/>
<ellipse cx="2.8" cy="0" rx="1.4" ry="4" fill="#000" stroke="none"/>
</g>
<g transform="translate(627.0 351.5) rotate(-16.0) scale(-1,1)">
<path d="M2.5 -1.7H10.0V1.7H2.5Z" fill="#fff" stroke-width="1.2"/>
<path d="M5 -1.7V1.7M7 -1.7V1.7" stroke-width="0.7" fill="none"/>
<ellipse cx="0" cy="0" rx="3.2" ry="4" fill="#000" stroke="none"/>
<ellipse cx="2.6" cy="0" rx="1.3" ry="3.8" fill="#000" stroke="none"/>
</g>
<g transform="translate(709.0 425.5) rotate(-16.0) scale(-1,1)">
<path d="M2.5 -1.7H10.0V1.7H2.5Z" fill="#fff" stroke-width="1.2"/>
<path d="M5 -1.7V1.7M7 -1.7V1.7" stroke-width="0.7" fill="none"/>
<ellipse cx="0" cy="0" rx="3.2" ry="4" fill="#000" stroke="none"/>
<ellipse cx="2.6" cy="0" rx="1.3" ry="3.8" fill="#000" stroke="none"/>
</g>
<g transform="translate(730.5 421.5) rotate(-16.0) scale(-1,1)">
<path d="M2.5 -1.7H10.0V1.7H2.5Z" fill="#fff" stroke-width="1.2"/>
<path d="M5 -1.7V1.7M7 -1.7V1.7" stroke-width="0.7" fill="none"/>
<ellipse cx="0" cy="0" rx="3.2" ry="4" fill="#000" stroke="none"/>
<ellipse cx="2.6" cy="0" rx="1.3" ry="3.8" fill="#000" stroke="none"/>
</g>
<g transform="translate(704.5 522.0) rotate(-16.0) scale(-1,1)">
<path d="M2.5 -1.7H10.0V1.7H2.5Z" fill="#fff" stroke-width="1.2"/>
<path d="M5 -1.7V1.7M7 -1.7V1.7" stroke-width="0.7" fill="none"/>
<ellipse cx="0" cy="0" rx="3.2" ry="4" fill="#000" stroke="none"/>
<ellipse cx="2.6" cy="0" rx="1.3" ry="3.8" fill="#000" stroke="none"/>
</g>
<path d="M392.3 397.7q1 -4 5 -4.6q4.5 0.4 4.6 4q-0.6 5 -5 6.8q-4 -1.2 -4.6 -6.2z" fill="#111" stroke-width="0.9"/>
<ellipse cx="396.1" cy="398.9" rx="0.8" ry="1.4" fill="#ddd" stroke="none" transform="rotate(-20 396.1 398.9)"/>
<ellipse cx="399.7" cy="397.5" rx="0.5" ry="0.9" fill="#ccc" stroke="none"/>
<ellipse cx="415.9" cy="392.5" rx="5" ry="5.5" fill="#000" stroke="none"/>
<path d="M458.2 422.4q1 -4 5 -4.6q4.5 0.4 4.6 4q-0.6 5 -5 6.8q-4 -1.2 -4.6 -6.2z" fill="#111" stroke-width="0.9"/>
<ellipse cx="462.0" cy="423.6" rx="0.8" ry="1.4" fill="#ddd" stroke="none" transform="rotate(-20 462.0 423.6)"/>
<ellipse cx="465.6" cy="422.2" rx="0.5" ry="0.9" fill="#ccc" stroke="none"/>
<ellipse cx="481.1" cy="417.4" rx="5" ry="5.5" fill="#000" stroke="none"/>
<path d="M598.3 639.7q0.5 -3.6 6.5 -3.8q6 0.2 6.5 3.8l-2.5 4.2q-4 2 -8 0z" fill="#111" stroke-width="0.9"/>
<ellipse cx="604.8" cy="639.3" rx="4.2" ry="1.7" fill="none" stroke="#fff" stroke-width="0.8"/>
<path d="M600.8 642.5q4 2 8 0" fill="none" stroke="#fff" stroke-width="0.7"/>
<path d="M656.5 647.7q0.5 -3.6 6.5 -3.8q6 0.2 6.5 3.8l-2.5 4.2q-4 2 -8 0z" fill="#111" stroke-width="0.9"/>
<ellipse cx="663.0" cy="647.3" rx="4.2" ry="1.7" fill="none" stroke="#fff" stroke-width="0.8"/>
<path d="M659.0 650.5q4 2 8 0" fill="none" stroke="#fff" stroke-width="0.7"/>
<path d="M742.5 362.5L747 361L748.5 363L752 362.5L753 360.5L756.3 361L756 365L752.5 367.5L751.5 370L748.5 370L747.5 367L743 366.5Z" fill="#000" stroke-width="0.8"/>
<path d="M171.0 431.3L173.5 431.3L179.0 433.8L179.0 440.8L171.0 439.8Z" fill="#000" stroke-width="0.8"/>
<path d="M173.6 434.3v3.2h2.6" fill="none" stroke="#555" stroke-width="0.7"/>
<path d="M163.3 527.5L165.8 527.5L171.3 530.0L171.3 537.0L163.3 536.0Z" fill="#000" stroke-width="0.8"/>
<path d="M165.9 530.5v3.2h2.6" fill="none" stroke="#555" stroke-width="0.7"/>
<path d="M403.5 548.0L406.0 548.0L411.5 550.5L411.5 557.5L403.5 556.5Z" fill="#000" stroke-width="0.8"/>
<path d="M406.1 551.0v3.2h2.6" fill="none" stroke="#555" stroke-width="0.7"/>
<path d="M396.0 643.5L398.5 643.5L404.0 646.0L404.0 653.0L396.0 652.0Z" fill="#000" stroke-width="0.8"/>
<path d="M398.6 646.5v3.2h2.6" fill="none" stroke="#555" stroke-width="0.7"/>
</g>
<g transform="translate(889,693)" fill="#1a1a1a" stroke="none">
<ellipse cx="0" cy="0" rx="25.4" ry="22.2" fill="none" stroke="#1a1a1a" stroke-width="3.4"/>
<path d="M-27.6 -11.4 Q-14.0 -9.5 -1.2 -5.6 L-5.9 -1.8 Q-16.0 -3.0 -23.9 -7.0Z" fill="#fff" stroke="#fff" stroke-width="2.6"/>
<path d="M-1.2 -5.6 L-1.2 15.7 L-5.9 14.5 L-5.9 -4.5 Z"/>
<path d="M-27.6 -11.4 Q-14.0 -9.5 -1.2 -5.6 L-1.2 -0.4 L-5.9 -1.0 Q-17.0 -2.4 -23.9 -6.8Z"/>
<path d="M-21.5 -0.9 Q-13.0 1.6 -5.9 2.4 L-5.9 7.0 Q-13.0 6.2 -18.3 3.6Z"/>
<path d="M-14.8 9.0 Q-10.0 10.5 -5.9 10.8 L-5.9 14.5 L-1.2 15.7 Q-8.0 15.0 -11.2 13.0Z"/>
<path d="M27.6 -11.4 Q14.0 -9.5 1.2 -5.6 L5.9 -1.8 Q16.0 -3.0 23.9 -7.0Z" fill="#fff" stroke="#fff" stroke-width="2.6"/>
<path d="M1.2 -5.6 L1.2 15.7 L5.9 14.5 L5.9 -4.5 Z"/>
<path d="M27.6 -11.4 Q14.0 -9.5 1.2 -5.6 L1.2 -0.4 L5.9 -1.0 Q17.0 -2.4 23.9 -6.8Z"/>
<path d="M21.5 -0.9 Q13.0 1.6 5.9 2.4 L5.9 7.0 Q13.0 6.2 18.3 3.6Z"/>
<path d="M14.8 9.0 Q10.0 10.5 5.9 10.8 L5.9 14.5 L1.2 15.7 Q8.0 15.0 11.2 13.0Z"/>
</g>
<g font-family="Liberation Sans, sans-serif" font-weight="bold" font-style="italic" fill="#1a1a1a" stroke="#1a1a1a">
<text transform="translate(926.8,688.4) scale(1.40,1)" font-size="11.7" stroke-width="0.5">POWERSPORTS</text>
<text transform="translate(918.2,708.2) scale(1.555,1)" font-size="21.8" stroke-width="1">EMPIRE</text>
</g>
<g fill="#fff" stroke="#000" stroke-width="1" stroke-linejoin="round">
<path d="M53.4 715.4L72.4 689L75.9 690.9L75.9 693.7L91.7 685L96.1 687L96.1 702.8L75.9 713.8L75.9 721.3L57 717.4Z"/>
<path d="M57 717.4L75.9 690.9M75.9 693.7V696M75.9 696L95.6 688.2" fill="none"/>
</g>
<text transform="translate(69.6,716.2) skewY(-26) scale(.40,1)" font-family="Liberation Serif, serif" font-weight="bold" font-size="20.5" fill="#000" stroke="#000" stroke-width="0.5">FWD</text>
<g fill="none" stroke="#000" stroke-linecap="butt" stroke-linejoin="round">
<path d="M95.5 385.0L95.5 139.3L252.8 139.3L252.8 347.5L95.5 385.0" stroke-dasharray="5 2.2" stroke-width="1.00" fill="none"/>
<path d="M160.5 730.0L160.5 390.0L734.5 233.0L734.5 570.5L160.5 730.0" stroke-dasharray="5 2.2" stroke-width="1.00" fill="none"/>
<path d="M89.0 284.0L250.0 370.0L250.0 441.0" stroke-dasharray="17 1.6 1.4 1.6" stroke-width="0.85" fill="none"/>
<path d="M211.6 221.5L211.6 332.5" stroke-dasharray="17 1.6 1.4 1.6" stroke-width="0.85" fill="none"/>
<path d="M211.6 221.5L216.5 223.0"  stroke-width="0.85"/>
<path d="M221.4 225.4L225.6 227.7"  stroke-width="0.85"/>
<path d="M127.6 256.5L127.6 279.0" stroke-dasharray="17 1.6 1.4 1.6" stroke-width="0.85" fill="none"/>
<path d="M128.0 273.5L160.3 273.5L160.3 254.5" stroke-dasharray="17 1.6 1.4 1.6" stroke-width="0.85" fill="none"/>
<path d="M116.0 157.0L70.0 242.0" stroke-dasharray="17 1.6 1.4 1.6" stroke-width="0.85" fill="none"/>
<path d="M67.4 250.0L62.4 258.3"  stroke-width="0.85"/>
<path d="M87.0 310.5L103.0 320.0" stroke-dasharray="17 1.6 1.4 1.6" stroke-width="0.85"/>
<path d="M87.0 334.0L103.0 344.0" stroke-dasharray="17 1.6 1.4 1.6" stroke-width="0.85"/>
<path d="M372.1 307.0L383.2 303.8L383.3 401.4L392.0 399.0" stroke-dasharray="17 1.6 1.4 1.6" stroke-width="0.85" fill="none"/>
<path d="M402.0 396.3L411.0 393.8"  stroke-width="0.85"/>
<path d="M421.0 391.0L577.0 347.3" stroke-dasharray="17 1.6 1.4 1.6" stroke-width="0.85"/>
<path d="M434.7 297.8L446.2 294.1L446.3 427.3L458.0 424.2" stroke-dasharray="17 1.6 1.4 1.6" stroke-width="0.85" fill="none"/>
<path d="M468.0 421.3L476.0 419.0"  stroke-width="0.85"/>
<path d="M486.0 416.0L587.5 387.5" stroke-dasharray="17 1.6 1.4 1.6" stroke-width="0.85"/>
<path d="M281.0 446.0L546.0 374.3" stroke-dasharray="17 1.6 1.4 1.6" stroke-width="0.85"/>
<path d="M271.0 403.0L271.0 441.0" stroke-dasharray="17 1.6 1.4 1.6" stroke-width="0.85"/>
<path d="M357.5 487.3L588.0 424.5" stroke-dasharray="17 1.6 1.4 1.6" stroke-width="0.85"/>
<path d="M350.8 522.6L545.9 470.6" stroke-dasharray="17 1.6 1.4 1.6" stroke-width="0.85"/>
<path d="M350.8 524.5L545.9 472.6" stroke-dasharray="17 1.6 1.4 1.6" stroke-width="0.85"/>
<path d="M346.0 557.3L553.0 500.0" stroke-dasharray="17 1.6 1.4 1.6" stroke-width="0.85"/>
<path d="M347.2 618.4L697.0 524.2" stroke-dasharray="17 1.6 1.4 1.6" stroke-width="0.85"/>
<path d="M350.8 523.8L403.4 548.9" stroke-dasharray="17 1.6 1.4 1.6" stroke-width="0.85"/>
<path d="M347.0 621.0L396.5 646.0" stroke-dasharray="17 1.6 1.4 1.6" stroke-width="0.85"/>
<path d="M179.0 438.4L211.7 454.5" stroke-dasharray="17 1.6 1.4 1.6" stroke-width="0.85"/>
<path d="M171.3 534.0L211.0 553.5" stroke-dasharray="17 1.6 1.4 1.6" stroke-width="0.85"/>
<path d="M602.0 358.5L620.0 353.5" stroke-dasharray="17 1.6 1.4 1.6" stroke-width="0.85"/>
<path d="M698.7 375.9L742.9 364.0" stroke-dasharray="17 1.6 1.4 1.6" stroke-width="0.85"/>
<path d="M811.0 361.2L662.0 403.0" stroke-dasharray="17 1.6 1.4 1.6" stroke-width="0.85"/>
<path d="M678.4 433.0L706.0 426.3" stroke-dasharray="17 1.6 1.4 1.6" stroke-width="0.85"/>
<path d="M713.0 424.5L727.0 421.0"  stroke-width="0.85"/>
<path d="M676.6 467.0L768.0 441.5" stroke-dasharray="17 1.6 1.4 1.6" stroke-width="0.85"/>
<path d="M781.0 438.0L799.0 432.5" stroke-dasharray="17 1.6 1.4 1.6" stroke-width="0.85"/>
<path d="M588.0 532.0L604.8 636.0" stroke-dasharray="17 1.6 1.4 1.6" stroke-width="0.85"/>
<path d="M650.0 559.5L662.6 644.0" stroke-dasharray="17 1.6 1.4 1.6" stroke-width="0.85"/>
<path d="M786.0 263.6L811.0 361.2" stroke-dasharray="17 1.6 1.4 1.6" stroke-width="0.85" fill="none"/>
<path d="M923.0 79.0L873.0 140.0" stroke-dasharray="17 1.6 1.4 1.6" stroke-width="0.85"/>
<path d="M798.7 258.0L805.9 255.9"  stroke-width="0.85"/>
<path d="M1014.0 393.6L1061.0 373.8" stroke-dasharray="17 1.6 1.4 1.6" stroke-width="0.85"/>
<path d="M130.0 154.3L146.5 154.3"  stroke-width="1.00"/>
<path d="M131.8 178.2L148.8 178.2"  stroke-width="1.00"/>
<path d="M130.0 207.0L149.7 207.0"  stroke-width="1.00"/>
<path d="M219.6 209.3L219.6 220.5"  stroke-width="1.00"/>
<path d="M237.5 219.5L237.5 230.0"  stroke-width="1.00"/>
<path d="M177.3 245.6L184.3 245.6"  stroke-width="1.00"/>
<path d="M69.3 231.5L69.3 242.6"  stroke-width="1.00"/>
<path d="M39.8 262.4L51.3 262.4"  stroke-width="1.00"/>
<path d="M32.0 282.7L84.0 282.7"  stroke-width="1.00"/>
<path d="M53.0 306.2L71.0 306.2"  stroke-width="1.00"/>
<path d="M52.5 329.7L71.0 329.7"  stroke-width="1.00"/>
<path d="M84.0 361.3L95.5 361.3"  stroke-width="1.00"/>
<path d="M287.5 391.5L302.5 391.5"  stroke-width="1.00"/>
<path d="M174.4 441.0L174.4 451.8"  stroke-width="1.00"/>
<path d="M166.8 537.0L166.8 548.5"  stroke-width="1.00"/>
<path d="M408.0 558.0L408.0 568.0"  stroke-width="1.00"/>
<path d="M400.5 637.0L400.5 643.0"  stroke-width="1.00"/>
<path d="M278.7 625.0L278.7 655.0"  stroke-width="1.00"/>
<path d="M366.6 290.5L366.6 307.5"  stroke-width="1.00"/>
<path d="M430.5 280.0L430.5 296.5"  stroke-width="1.00"/>
<path d="M397.5 375.0L397.5 394.0"  stroke-width="1.00"/>
<path d="M415.6 369.0L415.6 387.0"  stroke-width="1.00"/>
<path d="M464.4 427.6L464.4 440.5"  stroke-width="1.00"/>
<path d="M484.5 422.1L484.5 436.4"  stroke-width="1.00"/>
<path d="M625.5 335.0L625.5 348.0"  stroke-width="1.00"/>
<path d="M750.1 370.2L750.1 384.2"  stroke-width="1.00"/>
<path d="M775.7 415.5L775.7 432.0"  stroke-width="1.00"/>
<path d="M725.3 438.0L712.0 428.4"  stroke-width="1.00"/>
<path d="M725.3 438.0L726.8 427.0"  stroke-width="1.00"/>
<path d="M701.0 527.0L701.0 541.0"  stroke-width="1.00"/>
<path d="M622.8 528.0L622.8 558.0"  stroke-width="1.00"/>
<path d="M605.2 646.4L605.2 661.6"  stroke-width="1.00"/>
<path d="M663.0 655.0L663.0 669.7"  stroke-width="1.00"/>
<path d="M497.5 635.0L497.5 649.0"  stroke-width="1.00"/>
<path d="M846.4 193.5L846.4 214.7"  stroke-width="1.00"/>
<path d="M791.5 236.0L791.5 255.9"  stroke-width="1.00"/>
<path d="M888.4 215.4L906.8 215.4"  stroke-width="1.00"/>
<path d="M889.5 86.0L889.5 101.0"  stroke-width="1.00"/>
<path d="M902.0 341.0L902.0 360.0"  stroke-width="1.00"/>
<path d="M917.6 401.8L938.3 401.8"  stroke-width="1.00"/>
<path d="M1040.7 355.0L1040.7 373.0"  stroke-width="1.00"/>
</g>
<g font-family="Liberation Sans, sans-serif" font-weight="bold" fill="#000" stroke="#000" stroke-width="0.35">
<text transform="translate(152.50,161.80) scale(0.660,1)" text-anchor="middle" font-size="19">9</text>
<text transform="translate(154.00,184.80) scale(0.660,1)" text-anchor="middle" font-size="19">7</text>
<text transform="translate(155.75,214.30) scale(0.660,1)" text-anchor="middle" font-size="19">8</text>
<text transform="translate(220.00,210.55) scale(0.660,1)" text-anchor="middle" font-size="19">11</text>
<text transform="translate(238.00,219.80) scale(0.660,1)" text-anchor="middle" font-size="19">12</text>
<text transform="translate(191.75,252.80) scale(0.660,1)" text-anchor="middle" font-size="19">10</text>
<text transform="translate(69.50,232.80) scale(0.660,1)" text-anchor="middle" font-size="19">7</text>
<text transform="translate(36.75,267.80) scale(0.660,1)" text-anchor="middle" font-size="19">6</text>
<text transform="translate(28.75,287.80) scale(0.660,1)" text-anchor="middle" font-size="19">7</text>
<text transform="translate(48.75,311.80) scale(0.660,1)" text-anchor="middle" font-size="19">5</text>
<text transform="translate(47.50,335.55) scale(0.660,1)" text-anchor="middle" font-size="19">5</text>
<text transform="translate(79.25,368.05) scale(0.660,1)" text-anchor="middle" font-size="19">4</text>
<text transform="translate(309.50,398.05) scale(0.660,1)" text-anchor="middle" font-size="19">3</text>
<text transform="translate(173.75,467.30) scale(0.660,1)" text-anchor="middle" font-size="19">2</text>
<text transform="translate(166.25,563.80) scale(0.660,1)" text-anchor="middle" font-size="19">2</text>
<text transform="translate(407.50,583.05) scale(0.660,1)" text-anchor="middle" font-size="19">2</text>
<text transform="translate(400.00,636.80) scale(0.660,1)" text-anchor="middle" font-size="19">2</text>
<text transform="translate(278.75,670.55) scale(0.660,1)" text-anchor="middle" font-size="19">1</text>
<text transform="translate(364.50,289.30) scale(0.660,1)" text-anchor="middle" font-size="19">14</text>
<text transform="translate(427.50,278.80) scale(0.660,1)" text-anchor="middle" font-size="19">14</text>
<text transform="translate(395.50,374.30) scale(0.660,1)" text-anchor="middle" font-size="19">15</text>
<text transform="translate(413.00,367.80) scale(0.660,1)" text-anchor="middle" font-size="19">16</text>
<text transform="translate(464.40,455.40) scale(0.660,1)" text-anchor="middle" font-size="19">15</text>
<text transform="translate(484.70,451.00) scale(0.660,1)" text-anchor="middle" font-size="19">16</text>
<text transform="translate(623.25,334.30) scale(0.660,1)" text-anchor="middle" font-size="19">14</text>
<text transform="translate(750.00,399.30) scale(0.660,1)" text-anchor="middle" font-size="19">17</text>
<text transform="translate(773.25,415.55) scale(0.660,1)" text-anchor="middle" font-size="19">22</text>
<text transform="translate(727.50,453.05) scale(0.660,1)" text-anchor="middle" font-size="19">14</text>
<text transform="translate(624.50,571.80) scale(0.660,1)" text-anchor="middle" font-size="19">13</text>
<text transform="translate(700.50,555.55) scale(0.660,1)" text-anchor="middle" font-size="19">14</text>
<text transform="translate(604.00,676.80) scale(0.660,1)" text-anchor="middle" font-size="19">18</text>
<text transform="translate(662.00,683.80) scale(0.660,1)" text-anchor="middle" font-size="19">18</text>
<text transform="translate(497.00,667.80) scale(0.660,1)" text-anchor="middle" font-size="19">24</text>
<text transform="translate(843.00,193.80) scale(0.660,1)" text-anchor="middle" font-size="19">19</text>
<text transform="translate(789.00,237.80) scale(0.660,1)" text-anchor="middle" font-size="19">21</text>
<text transform="translate(917.00,221.80) scale(0.660,1)" text-anchor="middle" font-size="19">23</text>
<text transform="translate(888.80,85.20) scale(0.660,1)" text-anchor="middle" font-size="19">22</text>
<text transform="translate(900.30,341.80) scale(0.660,1)" text-anchor="middle" font-size="19">20</text>
<text transform="translate(948.50,408.10) scale(0.660,1)" text-anchor="middle" font-size="19">23</text>
<text transform="translate(1038.70,354.10) scale(0.660,1)" text-anchor="middle" font-size="19">22</text>
</g>
</svg></body></html>
